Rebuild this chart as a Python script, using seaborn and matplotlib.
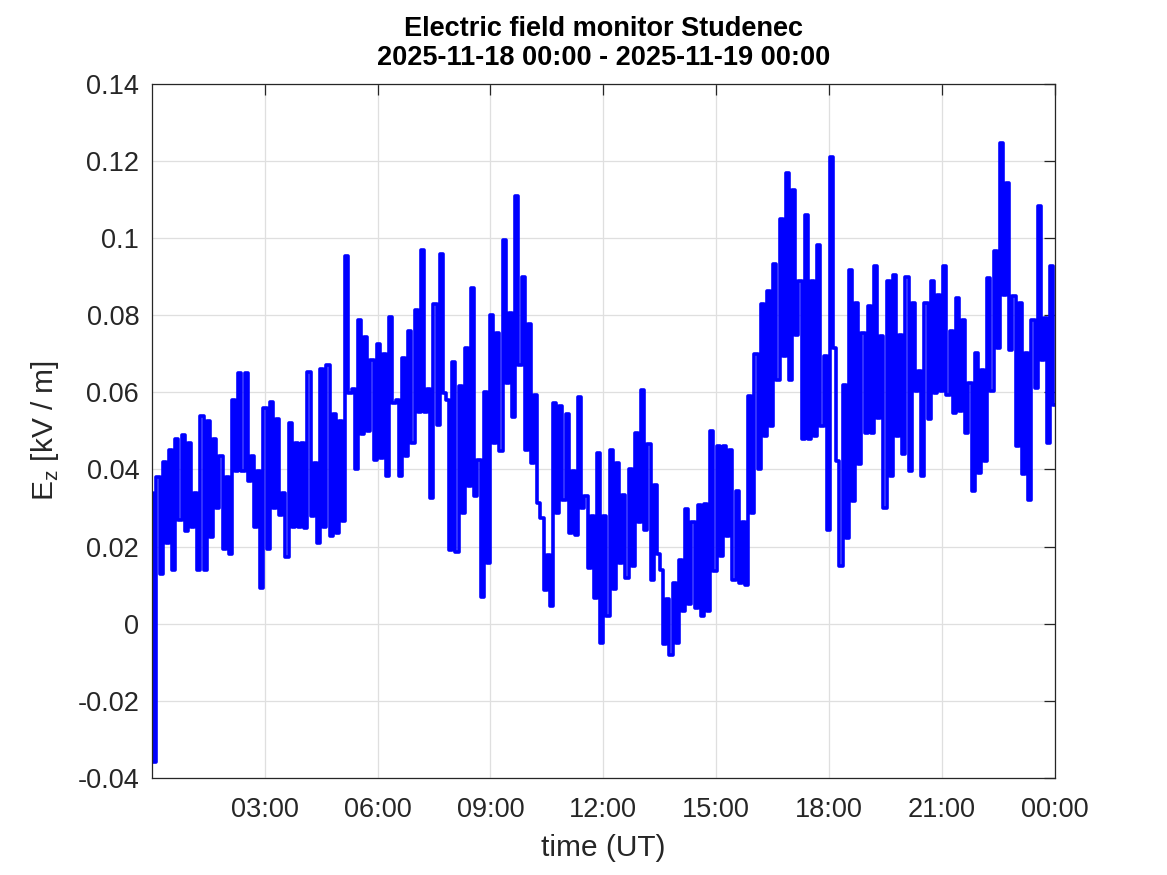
import pandas as pd
import numpy as np
import matplotlib
matplotlib.use('Agg')
import matplotlib.pyplot as plt
import matplotlib.dates as mdates
import matplotlib.ticker as mticker
import seaborn as sns

# 10-minute bins, max and min of Ez (kV/m)
ez_high = [0.034, 0.038, 0.042, 0.045, 0.048, 0.049,
           0.047, 0.034, 0.054, 0.0525, 0.048, 0.0436,
           0.038, 0.058, 0.065, 0.065, 0.0435, 0.0396,
           0.056, 0.0575, 0.053, 0.034, 0.052, 0.047,
           0.0469, 0.0654, 0.0417, 0.066, 0.067, 0.0545,
           0.0525, 0.0954, 0.061, 0.0787, 0.0743, 0.0685,
           0.0726, 0.070, 0.0795, 0.058, 0.069, 0.0758,
           0.0814, 0.097, 0.061, 0.083, 0.096, 0.058,
           0.068, 0.0616, 0.0715, 0.087, 0.0425, 0.060,
           0.080, 0.0754, 0.0996, 0.0806, 0.111, 0.090,
           0.0778, 0.0594, 0.0274, 0.0177, 0.0572, 0.0564,
           0.0545, 0.0395, 0.0588, 0.033, 0.0279, 0.0443,
           0.0279, 0.0451, 0.0417, 0.0335, 0.040, 0.0495,
           0.0605, 0.0467, 0.036, 0.014, 0.0063, 0.0106,
           0.0165, 0.0298, 0.0265, 0.0309, 0.031, 0.050,
           0.046, 0.046, 0.045, 0.0343, 0.0265, 0.059,
           0.070, 0.0828, 0.0862, 0.0934, 0.105, 0.117,
           0.1126, 0.0888, 0.106, 0.0888, 0.0983, 0.0694,
           0.121, 0.0422, 0.062, 0.0918, 0.0832, 0.0754,
           0.0823, 0.0927, 0.0745, 0.089, 0.0905, 0.075,
           0.090, 0.0832, 0.0655, 0.0832, 0.089, 0.0853,
           0.0929, 0.0758, 0.0845, 0.0789, 0.0625, 0.0702,
           0.0659, 0.0897, 0.0966, 0.1247, 0.1143, 0.0849,
           0.0832, 0.0702, 0.0789, 0.1084, 0.0793, 0.0927]

ez_low = [-0.036, 0.013, 0.021, 0.014, 0.027, 0.024,
          0.025, 0.014, 0.014, 0.0226, 0.030, 0.0194,
          0.018, 0.0396, 0.0396, 0.037, 0.025, 0.0093,
          0.0194, 0.030, 0.0283, 0.0174, 0.025, 0.025,
          0.0248, 0.0279, 0.0208, 0.025, 0.0227, 0.0235,
          0.0266, 0.0598, 0.040, 0.0493, 0.050, 0.0424,
          0.0429, 0.0382, 0.0572, 0.0382, 0.0434, 0.047,
          0.055, 0.055, 0.0326, 0.0516, 0.0598, 0.019,
          0.0185, 0.0287, 0.0356, 0.033, 0.007, 0.0158,
          0.0469, 0.0447, 0.0624, 0.0536, 0.0672, 0.045,
          0.0417, 0.0313, 0.0088, 0.0047, 0.0287, 0.0322,
          0.0234, 0.023, 0.030, 0.0145, 0.0067, -0.005,
          0.002, 0.0089, 0.0158, 0.0119, 0.0149, 0.0265,
          0.0244, 0.0114, 0.018, -0.0054, -0.008, -0.005,
          0.0032, 0.005, 0.0041, 0.002, 0.0032, 0.0136,
          0.0175, 0.0227, 0.0114, 0.0106, 0.010, 0.0287,
          0.040, 0.0486, 0.0512, 0.0633, 0.0694, 0.0633,
          0.075, 0.0478, 0.048, 0.0486, 0.0512, 0.0244,
          0.0715, 0.015, 0.0223, 0.0318, 0.0413, 0.0495,
          0.0495, 0.0534, 0.030, 0.0383, 0.0486, 0.044,
          0.0396, 0.0603, 0.0383, 0.053, 0.0599, 0.0603,
          0.0594, 0.0547, 0.0551, 0.0495, 0.0344, 0.0391,
          0.0421, 0.0603, 0.0715, 0.0853, 0.0711, 0.046,
          0.0387, 0.0322, 0.0612, 0.0685, 0.0469, 0.0568]

y_ticks = [-0.04, -0.02, 0, 0.02, 0.04, 0.06, 0.08, 0.1, 0.12, 0.14]
day_start = pd.Timestamp('2025-11-18 00:00')
day_end = pd.Timestamp('2025-11-19 00:00')

# interleave max/min so the trace zig-zags like the 1 s record
ez = np.empty(2 * len(ez_high))
ez[0::2] = ez_high
ez[1::2] = ez_low
times = pd.date_range(day_start, day_end, periods=len(ez))
df = pd.DataFrame({'time': times, 'Ez': ez})

sns.set_style('white')
plt.rcParams['font.family'] = ['Liberation Sans', 'DejaVu Sans']
plt.rcParams['axes.unicode_minus'] = False

fig = plt.figure(figsize=(11.67, 8.75), dpi=100)
ax = fig.add_axes([0.130, 0.111, 0.774, 0.793])
sns.lineplot(data=df, x='time', y='Ez', color=(0, 0, 1), linewidth=2.6,
             drawstyle='steps-mid', ax=ax)

ax.set_xlim(day_start, day_end)
ax.set_ylim(-0.04, 0.14)
ax.set_yticks(y_ticks)
ax.yaxis.set_major_formatter(mticker.FormatStrFormatter('%g'))
ax.set_xticks(pd.date_range('2025-11-18 03:00', day_end, freq='3h'))
ax.xaxis.set_major_formatter(mdates.DateFormatter('%H:%M'))

ax.grid(True, color='#dfdfdf', linewidth=0.9)
ax.set_axisbelow(True)
for s in ax.spines.values():
    s.set_color('#262626')
    s.set_linewidth(0.9)
ax.tick_params(direction='in', length=8, width=0.9, top=True, right=True,
               labelsize=19.5, colors='#262626')
ax.tick_params(axis='y', pad=9)
ax.tick_params(axis='x', pad=14)

ax.set_xlabel('time (UT)', fontsize=21.5, color='#262626', labelpad=8)
ax.set_ylabel('E$_\\mathregular{z}$ [kV / m]', fontsize=21.5, color='#262626', labelpad=12)
ax.set_title('Electric field monitor Studenec\n2025-11-18 00:00 - 2025-11-19 00:00',
             fontsize=19.5, fontweight='bold', color='black', pad=14, linespacing=1.12)

fig.savefig('out.png', dpi=100)
